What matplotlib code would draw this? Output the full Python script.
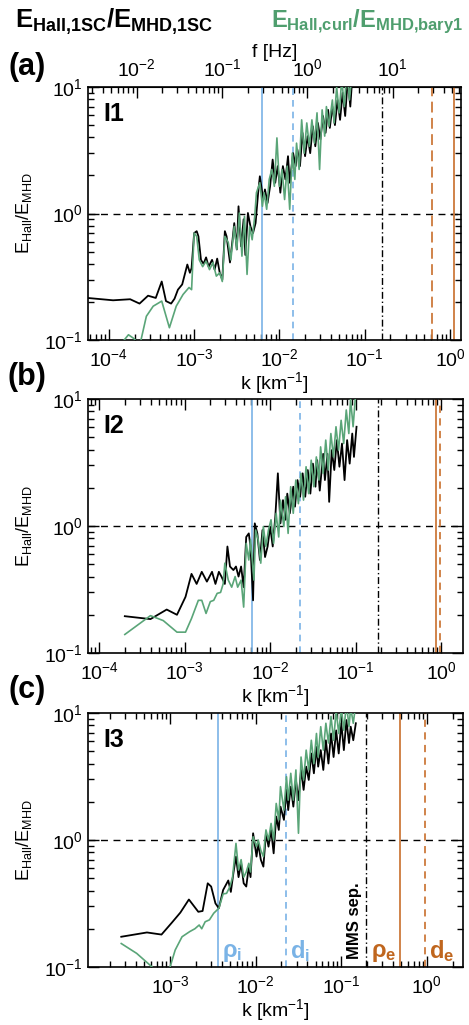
import numpy as np
import matplotlib
matplotlib.use('Agg')
import matplotlib.pyplot as plt

plt.rcParams['font.family'] = ['Liberation Sans', 'DejaVu Sans']
plt.rcParams['mathtext.fontset'] = 'custom'
plt.rcParams['mathtext.rm'] = 'Liberation Sans'
plt.rcParams['mathtext.bf'] = 'Liberation Sans:bold'
plt.rcParams['mathtext.it'] = 'Liberation Sans:italic'
plt.rcParams['mathtext.sf'] = 'Liberation Sans'

# ---------------- data ----------------
# Panel (a) I1
a_black_logk = [-4.25, -3.95, -3.75, -3.64, -3.54, -3.45, -3.38, -3.33, -3.27, -3.23, -3.19, -3.14, -3.08, -3.05, -3.03,
                -3.00, -2.97, -2.95, -2.92, -2.89, -2.86, -2.83, -2.79, -2.76, -2.73, -2.70, -2.67, -2.64, -2.62, -2.58,
                -2.55, -2.53, -2.50, -2.48, -2.45, -2.42, -2.40, -2.37, -2.34, -2.31, -2.28, -2.25, -2.23, -2.19, -2.17,
                -2.14, -2.11, -2.08, -2.05, -2.02, -1.99, -1.96, -1.93, -1.90, -1.88, -1.84, -1.81, -1.79, -1.76, -1.73,
                -1.70, -1.67, -1.64, -1.61, -1.58, -1.55, -1.52, -1.49, -1.46, -1.43, -1.41, -1.38, -1.35, -1.32, -1.29,
                -1.26, -1.23, -1.20, -1.17, -1.15]
a_black_val = [0.215, 0.206, 0.21, 0.194, 0.224, 0.215, 0.29, 0.203, 0.194, 0.212, 0.25, 0.275, 0.395, 0.34, 0.37,
               0.70, 0.725, 0.66, 0.43, 0.40, 0.45, 0.38, 0.43, 0.36, 0.44, 0.34, 0.30, 0.725, 0.66, 0.41,
               0.62, 0.84, 0.52, 1.14, 0.55, 0.90, 0.47, 1.01, 0.79, 0.70, 0.84, 1.46, 1.97, 1.29, 1.55,
               1.21, 1.64, 2.67, 1.75, 2.37, 1.46, 2.37, 1.86, 2.84, 1.75, 3.0, 2.37, 3.2, 2.37, 4.34,
               2.84, 4.09, 3.0, 4.9, 3.4, 5.2, 3.85, 5.9, 4.34, 6.6, 4.75, 7.0, 5.0, 7.9, 5.5,
               9.0, 5.9, 11.5, 7.0, 11.0]
a_green_logk = [-3.91, -3.77, -3.70, -3.64, -3.56, -3.48, -3.38, -3.29, -3.21, -3.13, -3.06, -3.03, -3.00, -2.97, -2.94,
                -2.90, -2.86, -2.82, -2.78, -2.74, -2.70, -2.67, -2.64, -2.60, -2.57, -2.53, -2.50, -2.47, -2.44, -2.41,
                -2.38, -2.35, -2.32, -2.29, -2.27, -2.23, -2.20, -2.18, -2.15, -2.12, -2.09, -2.06, -2.03, -2.00, -1.97,
                -1.94, -1.91, -1.88, -1.85, -1.82, -1.80, -1.77, -1.74, -1.71, -1.68, -1.65, -1.62, -1.59, -1.56, -1.53,
                -1.50, -1.47, -1.45, -1.42, -1.38, -1.36, -1.33, -1.30, -1.27, -1.24, -1.21, -1.18, -1.15]
a_green_val = [0.084, 0.11, 0.102, 0.089, 0.154, 0.185, 0.203, 0.125, 0.185, 0.229, 0.26, 0.25, 0.70, 0.66, 0.43,
               0.38, 0.42, 0.36, 0.41, 0.32, 0.34, 0.29, 0.66, 0.59, 0.43, 0.79, 0.52, 1.01, 0.46, 0.95,
               0.33, 0.79, 0.62, 0.95, 1.46, 1.75, 1.14, 1.46, 1.08, 1.86, 2.23, 1.64, 3.96, 1.64, 2.23,
               1.29, 2.37, 1.08, 3.0, 1.86, 3.6, 2.23, 5.5, 3.0, 5.2, 3.4, 5.5, 3.6, 6.25, 2.23,
               6.6, 4.09, 7.0, 4.9, 7.9, 5.2, 10.0, 6.25, 11.5, 7.0, 14.0, 7.9, 13.0]

# Panel (b) I2
b_black_logk = [-3.70, -3.40, -3.21, -3.09, -2.99, -2.92, -2.86, -2.80, -2.74, -2.68, -2.64, -2.60, -2.57, -2.53, -2.50,
                -2.47, -2.43, -2.40, -2.37, -2.34, -2.31, -2.28, -2.25, -2.23, -2.20, -2.18, -2.15, -2.12, -2.09, -2.06,
                -2.03, -2.00, -1.97, -1.94, -1.91, -1.88, -1.85, -1.82, -1.80, -1.77, -1.73, -1.71, -1.68, -1.65, -1.62,
                -1.59, -1.56, -1.53, -1.50, -1.47, -1.45, -1.42, -1.38, -1.36, -1.33, -1.31, -1.28, -1.25, -1.22, -1.19,
                -1.16, -1.13, -1.10, -1.07, -1.04, -1.02, -0.99]
b_black_val = [0.195, 0.185, 0.22, 0.20, 0.277, 0.42, 0.35, 0.436, 0.365, 0.436, 0.35, 0.436, 0.40, 0.35, 0.69,
               0.48, 0.45, 0.48, 0.40, 0.48, 0.33, 0.82, 0.875, 0.69, 0.26, 1.05, 0.875, 0.54, 0.93, 0.57,
               0.69, 0.99, 0.69, 1.18, 2.6, 1.05, 1.6, 1.12, 1.8, 1.26, 2.04, 1.42, 2.3, 1.7, 2.6,
               1.7, 2.76, 1.8, 3.1, 2.04, 3.3, 1.9, 3.7, 2.3, 3.7, 1.55, 3.96, 2.76, 4.75, 2.93,
               4.46, 2.3, 4.75, 3.1, 5.35, 3.5, 6.05]
b_green_logk = [-3.70, -3.40, -3.25, -3.09, -2.99, -2.92, -2.84, -2.80, -2.75, -2.70, -2.66, -2.62, -2.58, -2.55, -2.53,
                -2.49, -2.45, -2.41, -2.38, -2.34, -2.31, -2.28, -2.25, -2.23, -2.19, -2.17, -2.14, -2.11, -2.08, -2.05,
                -2.02, -1.99, -1.96, -1.93, -1.90, -1.88, -1.84, -1.82, -1.79, -1.76, -1.73, -1.70, -1.67, -1.64, -1.61,
                -1.58, -1.55, -1.52, -1.49, -1.46, -1.43, -1.41, -1.38, -1.35, -1.32, -1.29, -1.26, -1.23, -1.20, -1.17,
                -1.14, -1.11, -1.08, -1.06, -1.03, -1.00]
b_green_val = [0.14, 0.197, 0.18, 0.146, 0.146, 0.187, 0.26, 0.26, 0.205, 0.254, 0.26, 0.295, 0.30, 0.35, 0.51,
               0.375, 0.33, 0.40, 0.33, 0.375, 0.23, 0.73, 0.54, 0.78, 0.375, 0.93, 0.78, 0.51, 0.99, 0.69,
               0.93, 1.12, 0.73, 1.26, 0.82, 1.6, 0.99, 1.7, 0.875, 2.04, 1.26, 2.3, 1.5, 2.6, 1.6,
               2.93, 1.8, 3.3, 2.04, 3.5, 2.3, 4.2, 2.6, 4.75, 2.76, 5.35, 3.5, 6.05, 3.96, 6.8,
               4.46, 8.2, 5.35, 10.0, 6.05, 11.0]

# Panel (c) I3
c_black_logk = [-3.57, -3.27, -3.10, -2.98, -2.88, -2.78, -2.67, -2.62, -2.56, -2.52, -2.47, -2.43, -2.38, -2.32, -2.29,
                -2.26, -2.23, -2.20, -2.17, -2.14, -2.11, -2.08, -2.06, -2.03, -1.99, -1.97, -1.94, -1.91, -1.88, -1.85,
                -1.82, -1.79, -1.76, -1.73, -1.71, -1.67, -1.64, -1.62, -1.59, -1.56, -1.53, -1.50, -1.47, -1.44, -1.41,
                -1.38, -1.35, -1.32, -1.29, -1.27, -1.24, -1.21, -1.18, -1.15, -1.12, -1.09, -1.06, -1.03, -1.00, -0.97,
                -0.94, -0.91, -0.89, -0.86, -0.83]
c_black_val = [0.173, 0.187, 0.18, 0.223, 0.268, 0.34, 0.272, 0.276, 0.456, 0.43, 0.317, 0.29, 0.404, 0.48, 0.39,
               0.55, 0.74, 0.51, 0.655, 0.456, 0.43, 0.617, 0.51, 1.13, 0.74, 0.94, 0.70, 0.617, 1.13, 0.886,
               1.2, 0.785, 1.53, 1.2, 1.83, 1.44, 2.48, 1.72, 2.63, 1.83, 2.97, 2.06, 3.56, 2.48, 3.78,
               2.97, 4.8, 3.35, 5.4, 3.78, 5.1, 3.56, 6.1, 4.0, 6.9, 4.5, 7.3, 4.8, 8.3, 5.1,
               8.8, 5.8, 7.8, 6.1, 8.3]
c_green_logk = [-3.57, -3.39, -3.21, -3.08, -3.00, -2.94, -2.86, -2.77, -2.71, -2.66, -2.63, -2.59, -2.54, -2.49, -2.43,
                -2.38, -2.34, -2.30, -2.27, -2.23, -2.20, -2.17, -2.14, -2.11, -2.08, -2.06, -2.03, -1.99, -1.97, -1.94,
                -1.91, -1.88, -1.85, -1.82, -1.79, -1.76, -1.73, -1.71, -1.67, -1.64, -1.62, -1.59, -1.56, -1.53, -1.50,
                -1.47, -1.44, -1.41, -1.38, -1.35, -1.32, -1.29, -1.27, -1.24, -1.21, -1.18, -1.15, -1.12, -1.09, -1.06,
                -1.03, -1.00, -0.97, -0.94, -0.91, -0.89, -0.86, -0.83]
c_green_val = [0.153, 0.128, 0.10, 0.074, 0.10, 0.136, 0.173, 0.19, 0.20, 0.214, 0.20, 0.227, 0.235, 0.265, 0.29,
               0.376, 0.38, 0.43, 0.51, 0.94, 0.58, 0.70, 0.51, 0.56, 0.655, 0.56, 1.06, 0.886, 1.0, 0.83,
               0.74, 1.2, 1.0, 1.35, 1.0, 1.94, 1.44, 2.63, 1.72, 3.15, 2.06, 3.35, 2.06, 3.56, 1.13,
               4.5, 2.97, 5.1, 3.56, 6.1, 4.0, 6.9, 4.5, 7.8, 5.1, 8.3, 5.8, 9.4, 6.1, 10.5,
               6.9, 11.0, 7.3, 11.9, 7.8, 11.0, 8.3, 11.9]

# characteristic scales k [km^-1]
rho_i = [0.0062, 0.0062, 0.0036]
d_i = [0.0146, 0.0224, 0.0224]
mms_sep = [0.158, 0.183, 0.196]
rho_e = [1.11, 0.87, 0.49]
d_e = [0.615, 0.97, 0.95]
xlims = [(5.7e-5, 1.34), (7.4e-5, 1.8), (1.1e-4, 2.64)]
interval_names = ['I1', 'I2', 'I3']
panel_letters = ['(a)', '(b)', '(c)']
f_ticks = [1e-2, 1e-1, 1e0, 1e1]
f_per_k = 47.1  # f [Hz] = k * f_per_k (top axis of panel a)

BLUE = '#7ab3e6'
ORANGE = '#cd7a3c'
ORANGE_T = '#c0661e'
GREEN = '#5aa578'
GREEN_T = '#4f9e6e'

fig = plt.figure(figsize=(4.69, 10.25), dpi=100)
positions = [[0.1876, 0.6683, 0.7953, 0.2468],
             [0.1876, 0.3629, 0.7996, 0.2478],
             [0.1876, 0.0566, 0.7996, 0.2478]]
blacks = [(a_black_logk, a_black_val), (b_black_logk, b_black_val), (c_black_logk, c_black_val)]
greens = [(a_green_logk, a_green_val), (b_green_logk, b_green_val), (c_green_logk, c_green_val)]
letter_y = [67, 377, 690]

for i in range(3):
    ax = fig.add_axes(positions[i])
    ax.set_xscale('log')
    ax.set_yscale('log')
    ax.set_xlim(*xlims[i])
    ax.set_ylim(0.1, 10)
    bk, bv = blacks[i]
    gk, gv = greens[i]
    ax.plot(10 ** np.array(bk), bv, color='black', lw=1.3, zorder=3)
    ax.plot(10 ** np.array(gk), gv, color=GREEN, lw=1.2, zorder=4)
    ax.axhline(1.0, color='black', lw=1.0, dashes=(5, 4), zorder=2)
    ax.axvline(rho_i[i], color=BLUE, lw=1.2, zorder=2)
    ax.axvline(d_i[i], color=BLUE, lw=1.2, dashes=(4, 3), zorder=2)
    ax.axvline(mms_sep[i], color='black', lw=1.0, dashes=(5, 2, 1, 2), zorder=2)
    ax.axvline(rho_e[i], color=ORANGE, lw=1.3, zorder=2)
    ax.axvline(d_e[i], color=ORANGE, lw=1.3, dashes=(6, 3) if i == 0 else (4, 3), zorder=2)
    for s in ax.spines.values():
        s.set_linewidth(1.2)
    ax.tick_params(which='both', direction='in', top=(i != 0), right=True, labelsize=14, width=1.0)
    ax.tick_params(which='major', length=8)
    ax.tick_params(which='minor', length=4)
    ax.tick_params(axis='x', which='both', pad=6)
    ax.tick_params(axis='y', which='both', pad=4)
    ax.set_xlabel(r'k [km$^{-1}$]', fontsize=14, labelpad=0)
    ax.set_ylabel(r'E$_{\mathrm{Hall}}$/E$_{\mathrm{MHD}}$', fontsize=13, labelpad=7)
    ax.text(0.04, 0.94, interval_names[i], transform=ax.transAxes, fontsize=18,
            fontweight='bold', ha='left', va='top')
    fig.text(27 / 469, 1 - letter_y[i] / 1025, panel_letters[i], fontsize=22,
             fontweight='bold', ha='center', va='center')
    if i == 0:
        sec = ax.secondary_xaxis('top', functions=(lambda k: k * f_per_k, lambda f: f / f_per_k))
        sec.set_xticks(f_ticks)
        sec.tick_params(which='both', direction='in', labelsize=14, width=1.0, pad=5)
        sec.tick_params(which='major', length=8)
        sec.tick_params(which='minor', length=4)
        sec.set_xlabel('f [Hz]', fontsize=14, labelpad=1)
    if i == 2:
        lab_kw = dict(xycoords=('data', 'axes fraction'), textcoords='offset points',
                      fontsize=17, fontweight='bold', va='bottom')
        ax.annotate(r'$\mathbf{ρ_i}$', xy=(rho_i[i], 0.0), xytext=(3, 2), ha='left', color=BLUE, **lab_kw)
        ax.annotate(r'$\mathbf{d_i}$', xy=(d_i[i], 0.0), xytext=(3, 2), ha='left', color=BLUE, **lab_kw)
        ax.annotate(r'$\mathbf{ρ_e}$', xy=(rho_e[i], 0.0), xytext=(-3, 2), ha='right', color=ORANGE_T, **lab_kw)
        ax.annotate(r'$\mathbf{d_e}$', xy=(d_e[i], 0.0), xytext=(3, 2), ha='left', color=ORANGE_T, **lab_kw)
        ax.annotate('MMS sep.', xy=(mms_sep[i], 0.0), xycoords=('data', 'axes fraction'),
                    xytext=(-3, 6), textcoords='offset points', rotation=90,
                    fontsize=12, fontweight='bold', ha='right', va='bottom', color='black')

fig.text(15 / 469, 1 - 22 / 1025, r'$\mathbf{E_{Hall{,}1SC}/E_{MHD{,}1SC}}$', fontsize=18.5,
         color='black', ha='left', va='center')
fig.text(463 / 469, 1 - 22 / 1025, r'$\mathbf{E_{Hall{,}curl}/E_{MHD{,}bary1}}$', fontsize=17,
         color=GREEN_T, ha='right', va='center')

fig.savefig('out.png', dpi=100)
